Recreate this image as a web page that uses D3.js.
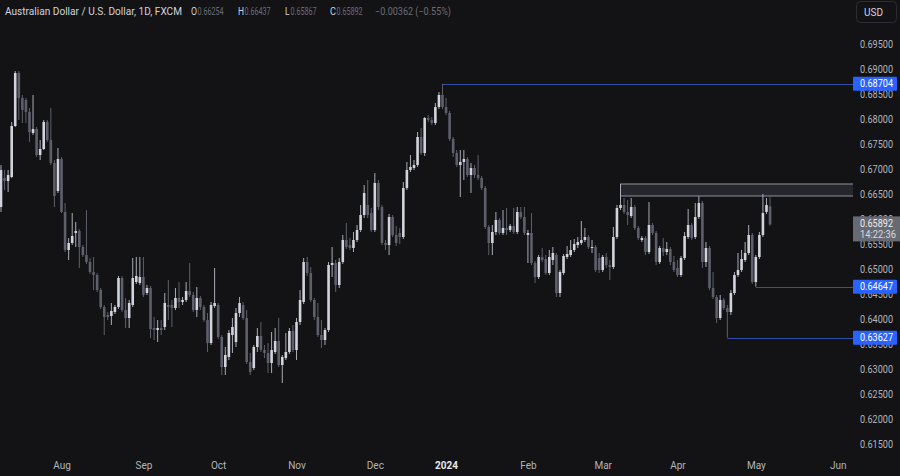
<!DOCTYPE html>
<html><head><meta charset="utf-8">
<script src="https://cdn.jsdelivr.net/npm/d3@7"></script>
<style>html,body{margin:0;padding:0;background:#131316;overflow:hidden}</style>
</head><body><svg id="c" width="900" height="476"></svg>
<script>
// ---------------- DATA ----------------
const title = "Australian Dollar / U.S. Dollar, 1D, FXCM";
const startDate = "2023-07-07";
const closedDays = ["2023-12-25"];
const open = [0.6624,0.6682,0.6676,0.6684,0.6786,0.6892,0.6842,0.6838,0.6814,0.6772,
0.6780,0.6728,0.6740,0.6794,0.6758,0.6712,0.6656,0.6720,0.6614,0.6538,
0.6552,0.6572,0.6576,0.6544,0.6528,0.6514,0.6494,0.6488,0.6458,0.6424,
0.6408,0.6406,0.6414,0.6424,0.6482,0.6418,0.6402,0.6428,0.6474,0.6472,
0.6484,0.6452,0.6462,0.6382,0.6378,0.6382,0.6384,0.6428,0.6428,0.6422,
0.6442,0.6434,0.6438,0.6456,0.6448,0.6418,0.6442,0.6424,0.6398,0.6352,
0.6426,0.6428,0.6364,0.6304,0.6324,0.6368,0.6354,0.6412,0.6428,0.6402,
0.6314,0.6302,0.6344,0.6366,0.6338,0.6332,0.6312,0.6334,0.6356,0.6308,
0.6322,0.6334,0.6376,0.6338,0.6394,0.6434,0.6514,0.6492,0.6438,0.6404,
0.6368,0.6358,0.6378,0.6508,0.6512,0.6468,0.6514,0.6558,0.6548,0.6542,
0.6558,0.6578,0.6608,0.6628,0.6612,0.6578,0.6672,0.6624,0.6552,0.6548,
0.6604,0.6568,0.6572,0.6564,0.6662,0.6698,0.6702,0.6708,0.6764,0.6732,
0.6802,0.6798,0.6792,0.6824,0.6848,0.6824,0.6812,0.6760,0.6732,0.6708,
0.6714,0.6720,0.6688,0.6702,0.6688,0.6682,0.6662,0.6584,0.6552,0.6574,
0.6598,0.6572,0.6582,0.6578,0.6586,0.6574,0.6614,0.6604,0.6568,0.6572,
0.6512,0.6484,0.6524,0.6520,0.6492,0.6518,0.6528,0.6452,0.6492,0.6524,
0.6528,0.6538,0.6548,0.6552,0.6558,0.6564,0.6542,0.6544,0.6522,0.6498,
0.6524,0.6508,0.6504,0.6564,0.6622,0.6628,0.6614,0.6606,0.6624,0.6582,
0.6558,0.6562,0.6534,0.6588,0.6572,0.6514,0.6542,0.6534,0.6540,0.6514,
0.6502,0.6488,0.6522,0.6564,0.6588,0.6564,0.6604,0.6632,0.6514,0.6542,
0.6462,0.6444,0.6402,0.6438,0.6422,0.6414,0.6452,0.6488,0.6498,0.6518,
0.6532,0.6568,0.6474,0.6524,0.6568,0.6614,0.66254];
const high = [0.6708,0.6698,0.6698,0.6794,0.6896,0.6896,0.6848,0.6842,0.6822,0.6848,
0.6784,0.6758,0.6798,0.6798,0.6822,0.6718,0.6742,0.6724,0.6632,0.6562,
0.6612,0.6594,0.6580,0.6548,0.6618,0.6522,0.6524,0.6492,0.6462,0.6428,
0.6414,0.6432,0.6428,0.6486,0.6486,0.6442,0.6438,0.6522,0.6524,0.6524,
0.6524,0.6468,0.6466,0.6404,0.6398,0.6398,0.6452,0.6478,0.6438,0.6462,
0.6474,0.6444,0.6474,0.6512,0.6454,0.6464,0.6446,0.6428,0.6412,0.6434,
0.6502,0.6432,0.6368,0.6344,0.6378,0.6402,0.6422,0.6444,0.6434,0.6418,
0.6332,0.6348,0.6382,0.6394,0.6348,0.6352,0.6374,0.6382,0.6402,0.6328,
0.6372,0.6382,0.6388,0.6402,0.6458,0.6522,0.6524,0.6504,0.6442,0.6432,
0.6398,0.6382,0.6514,0.6544,0.6518,0.6522,0.6568,0.6592,0.6562,0.6574,
0.6588,0.6628,0.6668,0.6678,0.6622,0.6692,0.6678,0.6628,0.6558,0.6610,
0.6608,0.6586,0.6582,0.6674,0.6714,0.6728,0.6718,0.6774,0.6782,0.6804,
0.6808,0.6804,0.6832,0.6854,0.68704,0.6842,0.6816,0.6764,0.6738,0.6738,
0.6738,0.6724,0.6712,0.6708,0.6728,0.6686,0.6666,0.6588,0.6588,0.6614,
0.6602,0.6618,0.6622,0.6590,0.6622,0.6624,0.6624,0.6624,0.6578,0.6612,
0.6516,0.6528,0.6542,0.6528,0.6538,0.6544,0.6532,0.6498,0.6530,0.6546,
0.6558,0.6560,0.6564,0.6596,0.6582,0.6568,0.6558,0.6548,0.6532,0.6528,
0.6532,0.6518,0.6584,0.6628,0.6670,0.6642,0.6638,0.6642,0.6628,0.6586,
0.6566,0.6566,0.6634,0.6592,0.6576,0.6546,0.6562,0.6554,0.6544,0.6526,
0.6518,0.6526,0.6574,0.6620,0.6592,0.6632,0.6646,0.6636,0.6554,0.6546,
0.6494,0.6448,0.6448,0.6442,0.6428,0.6458,0.6494,0.6532,0.6538,0.6554,
0.6588,0.6572,0.6528,0.6574,0.6650,0.6642,0.66437];
const low = [0.6614,0.6658,0.6654,0.6682,0.6784,0.6798,0.6792,0.6792,0.6754,0.6768,
0.6724,0.6718,0.6738,0.6754,0.6708,0.6624,0.6652,0.6612,0.6534,0.6518,
0.6548,0.6544,0.6502,0.6524,0.6510,0.6490,0.6458,0.6454,0.6420,0.6368,
0.6398,0.6388,0.6410,0.6420,0.6414,0.6382,0.6382,0.6424,0.6470,0.6468,
0.6444,0.6448,0.6362,0.6358,0.6354,0.6368,0.6378,0.6398,0.6384,0.6418,
0.6422,0.6428,0.6434,0.6444,0.6414,0.6404,0.6418,0.6394,0.6334,0.6348,
0.6422,0.6360,0.6288,0.6288,0.6318,0.6332,0.6344,0.6404,0.6398,0.6310,
0.6288,0.6298,0.6334,0.6334,0.6322,0.6292,0.6292,0.6330,0.6304,0.6272,
0.6318,0.6330,0.6334,0.6318,0.6388,0.6430,0.6486,0.6434,0.6398,0.6364,
0.6342,0.6348,0.6374,0.6484,0.6454,0.6462,0.6510,0.6540,0.6538,0.6534,
0.6554,0.6574,0.6602,0.6602,0.6574,0.6574,0.6618,0.6548,0.6538,0.6528,
0.6564,0.6546,0.6550,0.6560,0.6658,0.6694,0.6698,0.6704,0.6728,0.6726,
0.6794,0.6788,0.6788,0.6820,0.6820,0.6808,0.6756,0.6724,0.6704,0.6644,
0.6678,0.6684,0.6652,0.6682,0.6678,0.6658,0.6580,0.6528,0.6528,0.6568,
0.6568,0.6568,0.6568,0.6574,0.6570,0.6570,0.6600,0.6568,0.6512,0.6508,
0.6472,0.6480,0.6514,0.6488,0.6488,0.6508,0.6444,0.6444,0.6488,0.6520,
0.6524,0.6534,0.6542,0.6548,0.6554,0.6540,0.6532,0.6494,0.6492,0.6494,
0.6502,0.6478,0.6500,0.6560,0.6618,0.6610,0.6588,0.6602,0.6578,0.6558,
0.6554,0.6528,0.6530,0.6568,0.6508,0.6510,0.6526,0.6528,0.6508,0.6494,
0.6484,0.6484,0.6518,0.6560,0.6558,0.6560,0.6600,0.6502,0.6504,0.6458,
0.6440,0.6392,0.6398,0.6418,0.63627,0.6408,0.6448,0.6484,0.6494,0.6514,
0.6528,0.6470,0.64647,0.6520,0.6564,0.6610,0.65867];
const close = [0.6698,0.6676,0.6688,0.6786,0.6892,0.6842,0.6818,0.6814,0.6774,0.6780,
0.6728,0.6740,0.6794,0.6758,0.6712,0.6646,0.6720,0.6614,0.6538,0.6552,
0.6566,0.6576,0.6544,0.6528,0.6514,0.6494,0.6488,0.6458,0.6424,0.6404,
0.6404,0.6416,0.6424,0.6482,0.6418,0.6402,0.6432,0.6482,0.6486,0.6484,
0.6448,0.6462,0.6380,0.6378,0.6382,0.6378,0.6432,0.6424,0.6422,0.6442,
0.6434,0.6438,0.6456,0.6448,0.6418,0.6442,0.6424,0.6398,0.6352,0.6428,
0.6432,0.6364,0.6304,0.6328,0.6372,0.6384,0.6412,0.6432,0.6402,0.6314,
0.6294,0.6344,0.6366,0.6338,0.6332,0.6312,0.6338,0.6356,0.6308,0.6324,
0.6334,0.6376,0.6338,0.6394,0.6438,0.6514,0.6492,0.6438,0.6404,0.6368,
0.6358,0.6378,0.6508,0.6512,0.6468,0.6514,0.6558,0.6544,0.6542,0.6558,
0.6578,0.6608,0.6652,0.6608,0.6578,0.6672,0.6624,0.6552,0.6548,0.6604,
0.6568,0.6552,0.6564,0.6662,0.6698,0.6704,0.6708,0.6764,0.6732,0.6802,
0.6798,0.6792,0.6824,0.6848,0.6824,0.6812,0.6760,0.6732,0.6708,0.6714,
0.6720,0.6688,0.6702,0.6688,0.6682,0.6662,0.6584,0.6552,0.6574,0.6598,
0.6572,0.6582,0.6578,0.6586,0.6574,0.6614,0.6604,0.6572,0.6572,0.6512,
0.6484,0.6524,0.6518,0.6492,0.6524,0.6532,0.6452,0.6494,0.6526,0.6530,
0.6538,0.6550,0.6554,0.6558,0.6564,0.6544,0.6544,0.6498,0.6498,0.6524,
0.6508,0.6504,0.6564,0.6622,0.6628,0.6614,0.6608,0.6624,0.6582,0.6562,
0.6562,0.6534,0.6588,0.6572,0.6514,0.6542,0.6534,0.6540,0.6514,0.6498,
0.6488,0.6522,0.6566,0.6588,0.6562,0.6604,0.6632,0.6514,0.6542,0.6462,
0.6444,0.6402,0.6438,0.6422,0.6414,0.6452,0.6488,0.6498,0.6520,0.6532,
0.6568,0.6474,0.6524,0.6568,0.6612,0.6628,0.65892];
const priceTicks = [0.615,0.620,0.625,0.630,0.635,0.640,0.645,0.650,0.655,0.660,0.665,0.670,0.675,0.680,0.685,0.690,0.695];
const monthTickDates = ["2023-08-01","2023-09-01","2023-10-02","2023-11-01","2023-12-01","2024-01-01","2024-02-01","2024-03-01","2024-04-01","2024-05-01","2024-06-03"];
const monthTickLabels = ["Aug","Sep","Oct","Nov","Dec","2024","Feb","Mar","Apr","May","Jun"];
const levelValues = [0.68704, 0.64647, 0.63627];
const levelStartBars = [124, 212, 204];
const zoneTop = 0.6670, zoneBottom = 0.6646, zoneStartBar = 174;
const lastTime = "14:22:36";
const headerChange = "\u22120.00362 (\u22120.55%)";

// ---------------- SETUP ----------------
const W = 900, H = 476, plotRight = 853;
const bg = "#131316", upCol = "#d1d4dc", downCol = "#5d606b", upWick = "#a9acb5", textCol = "#b2b5be";
const font = "Roboto, 'Noto Sans', sans-serif";

const dates = [];
{ let d = new Date(startDate + "T00:00:00Z");
  while (dates.length < 260) { const dow = d.getUTCDay(); const s = d.toISOString().slice(0,10);
    if (dow !== 0 && dow !== 6 && !closedDays.includes(s)) dates.push(s);
    d.setUTCDate(d.getUTCDate() + 1); } }

const bars = close.map((c,i) => ({i, o: open[i], h: high[i], l: low[i], c}));
const x = d3.scaleLinear().domain([-0.28, 239.3]).range([0, plotRight]);
const y = d3.scaleLinear().domain([0.615, 0.695]).range([444, 44]);

const svg = d3.select("#c");
svg.append("rect").attr("width", W).attr("height", H).attr("fill", bg);
svg.append("defs").append("clipPath").attr("id","plot").append("rect").attr("x",0).attr("y",0).attr("width",plotRight).attr("height",455);
const plot = svg.append("g").attr("clip-path","url(#plot)");

// zone rectangle
plot.append("rect").attr("x", x(zoneStartBar)).attr("y", y(zoneTop))
  .attr("width", plotRight - x(zoneStartBar) + 2).attr("height", y(zoneBottom) - y(zoneTop))
  .attr("fill", "#26272c").attr("stroke", "#8f929b").attr("stroke-width", 1);

// level lines
levelValues.forEach((v,k) => {
  plot.append("line").attr("x1", x(levelStartBars[k])).attr("x2", plotRight)
    .attr("y1", Math.round(y(v)) + 0.5).attr("y2", Math.round(y(v)) + 0.5)
    .attr("stroke", "#2f4fa8").attr("stroke-width", 1);
});

// candles
const bw = 2.6;
const cg = plot.append("g");
cg.selectAll("line.w").data(bars).join("line").attr("class","w")
  .attr("x1", d => x(d.i)).attr("x2", d => x(d.i))
  .attr("y1", d => y(d.h)).attr("y2", d => y(d.l))
  .attr("stroke", d => d.c >= d.o ? upWick : downCol).attr("stroke-width", 1);
cg.selectAll("rect.b").data(bars).join("rect").attr("class","b")
  .attr("x", d => x(d.i) - bw/2).attr("width", bw)
  .attr("y", d => y(Math.max(d.o, d.c)))
  .attr("height", d => Math.max(1, Math.abs(y(d.o) - y(d.c))))
  .attr("fill", d => d.c >= d.o ? upCol : downCol);

// price axis
const pAxis = svg.append("g").attr("transform", `translate(${plotRight},0)`)
  .call(d3.axisRight(y).tickValues(priceTicks).tickFormat(d3.format(".5f")).tickSize(0).tickPadding(7));
pAxis.select(".domain").remove();
pAxis.selectAll("text").attr("fill", textCol).attr("font-family", font).attr("font-size", 10)
  .attr("textLength", 33).attr("lengthAdjust", "spacingAndGlyphs");

// level labels
levelValues.forEach(v => {
  const yy = y(v);
  svg.append("rect").attr("x", plotRight).attr("y", yy - 7).attr("width", 44).attr("height", 14).attr("rx", 1).attr("fill", "#2962ff");
  svg.append("text").attr("x", plotRight + 7).attr("y", yy).attr("dy", "0.35em").attr("fill", "#ffffff")
    .attr("font-family", font).attr("font-size", 10).attr("textLength", 33).attr("lengthAdjust","spacingAndGlyphs")
    .text(d3.format(".5f")(v));
});

// last price label
const lastClose = close[close.length - 1];
const ly = y(lastClose);
svg.append("rect").attr("x", plotRight).attr("y", ly - 8).attr("width", 47).attr("height", 25).attr("fill", "#676a73");
svg.append("text").attr("x", plotRight + 7).attr("y", ly - 1).attr("dy", "0.35em").attr("fill", "#eceef2")
  .attr("font-family", font).attr("font-size", 10).attr("textLength", 33).attr("lengthAdjust","spacingAndGlyphs").text(d3.format(".5f")(lastClose));
svg.append("text").attr("x", plotRight + 7).attr("y", ly + 10).attr("dy", "0.35em").attr("fill", "#d8dae0")
  .attr("font-family", font).attr("font-size", 10).attr("textLength", 36).attr("lengthAdjust","spacingAndGlyphs").text(lastTime);

// time axis
const xTickIdx = monthTickDates.map(s => dates.indexOf(s));
const tAxis = svg.append("g").attr("transform", "translate(0,459)")
  .call(d3.axisBottom(x).tickValues(xTickIdx).tickFormat((d,k) => monthTickLabels[k]).tickSize(0).tickPadding(3));
tAxis.select(".domain").remove();
tAxis.selectAll("text").attr("fill", textCol).attr("font-family", font).attr("font-size", 10)
  .attr("font-weight", (d,k) => monthTickLabels[k] === "2024" ? "bold" : "normal")
  .attr("fill", (d,k) => monthTickLabels[k] === "2024" ? "#e6e8ee" : textCol);

// USD button
svg.append("rect").attr("x", 856.5).attr("y", 1.5).attr("width", 40).attr("height", 21).attr("rx", 4)
  .attr("fill", "none").attr("stroke", "#2a2d35");
svg.append("text").attr("x", 864).attr("y", 12).attr("dy", "0.35em").attr("fill", "#d1d4dc")
  .attr("font-family", font).attr("font-size", 10).text("USD");

// header
const hg = svg.append("g").attr("font-family", font).attr("font-size", 10.5);
const hy = 11;
const hText = (t, xx, len, col) => hg.append("text").attr("x", xx).attr("y", hy).attr("dy","0.35em").attr("fill", col)
  .attr("textLength", len).attr("lengthAdjust","spacingAndGlyphs").text(t);
hText(title, 5, 177, "#d1d4dc");
const vals = [["O", open], ["H", high], ["L", low], ["C", close]];
const labX = [191, 238, 285, 330];
vals.forEach(([lab, arr], k) => {
  hText(lab, labX[k], lab === "L" ? 4.5 : 6, "#d1d4dc");
  hText(d3.format(".5f")(arr[arr.length-1]), labX[k] + (lab === "L" ? 5.5 : 6.5), 26, "#6a6d77");
});
hText(headerChange, 375, 76, "#6a6d77");
</script></body></html>
